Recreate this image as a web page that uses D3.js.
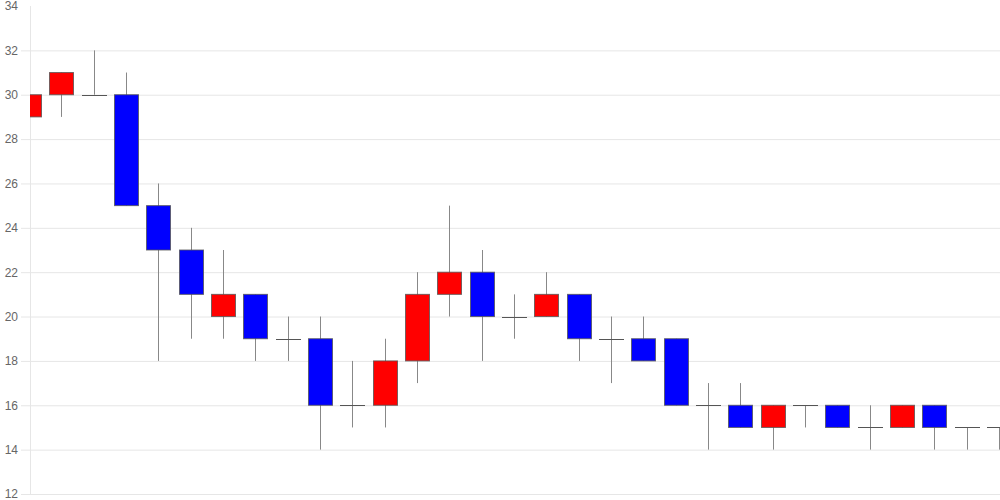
<!DOCTYPE html>
<html><head><meta charset="utf-8">
<script src="https://cdn.jsdelivr.net/npm/d3@7"></script>
<style>body{margin:0;background:#fff}svg{display:block}</style>
</head><body>
<svg id="c" width="1000" height="500"></svg>
<script>
const opens  = [29,30,30,30,25,23,20,21,19,19,16,16,18,21,22,20,20,21,19,19,19,16,16,15,16,16,15,15,16,15,15];
const closes = [30,31,30,25,23,21,21,19,19,16,16,18,21,22,20,20,21,19,19,18,16,16,15,16,16,15,15,16,15,15,15];
const highs  = [32,31,32,31,26,24,23,21,20,20,18,19,22,25,23,21,22,21,20,20,19,17,17,16,16,16,16,16,16,15,15];
const lows   = [29,29,30,25,18,19,19,18,18,14,15,15,17,20,18,19,20,18,17,18,16,14,15,14,15,15,14,15,14,14,14];
const yTicks = [12,14,16,18,20,22,24,26,28,30,32,34];

const svg = d3.select("#c");
const L = 30, R = 1000, T = 6, B = 494;
const x = d3.scaleLinear().domain([0, opens.length - 1]).range([29, 999]);
const y = d3.scaleLinear().domain([12, 34]).range([B, T]);
const bw = 24;

svg.append("defs").append("clipPath").attr("id","clip")
  .append("rect").attr("x",L).attr("y",0).attr("width",R-L).attr("height",500);

// grid + axis
const ax = svg.append("g").attr("transform",`translate(${L},0)`)
  .call(d3.axisLeft(y).tickValues(yTicks).tickSize(-(R-L)).tickPadding(12).tickFormat(d3.format("d")));
ax.select(".domain").remove();
ax.selectAll(".tick line").attr("stroke","#e6e6e6").attr("x1",-9).attr("x2",R-L)
  .filter(d=>d===34).remove();
ax.selectAll(".tick text").attr("fill","#666").attr("font-family","Liberation Sans, Arial, sans-serif").attr("font-size",12);
svg.append("line").attr("x1",L+0.5).attr("x2",L+0.5).attr("y1",T).attr("y2",B).attr("stroke","#e6e6e6");

const data = opens.map((o,i)=>({i,o,c:closes[i],h:highs[i],l:lows[i]}));
const g = svg.append("g").attr("clip-path","url(#clip)");
// wicks
g.selectAll(".wick").data(data).join("line")
  .attr("x1",d=>Math.round(x(d.i))+0.5).attr("x2",d=>Math.round(x(d.i))+0.5)
  .attr("y1",d=>y(d.h)).attr("y2",d=>y(d.l))
  .attr("stroke","#888").attr("stroke-width",1);
// bodies
g.selectAll(".body").data(data.filter(d=>d.o!==d.c)).join("rect")
  .attr("x",d=>Math.round(x(d.i)-bw/2)+0.5)
  .attr("y",d=>y(Math.max(d.o,d.c)))
  .attr("width",bw)
  .attr("height",d=>Math.abs(y(d.o)-y(d.c)))
  .attr("fill",d=>d.c>d.o?"#ff0000":"#0000ff")
  .attr("stroke","#555").attr("stroke-opacity",0.8).attr("stroke-width",1);
// doji
g.selectAll(".doji").data(data.filter(d=>d.o===d.c)).join("line")
  .attr("x1",d=>Math.round(x(d.i)-bw/2)).attr("x2",d=>Math.round(x(d.i)+bw/2)+1)
  .attr("y1",d=>Math.round(y(d.o))+0.5).attr("y2",d=>Math.round(y(d.o))+0.5)
  .attr("stroke","#555").attr("stroke-width",1);
</script>
</body></html>
